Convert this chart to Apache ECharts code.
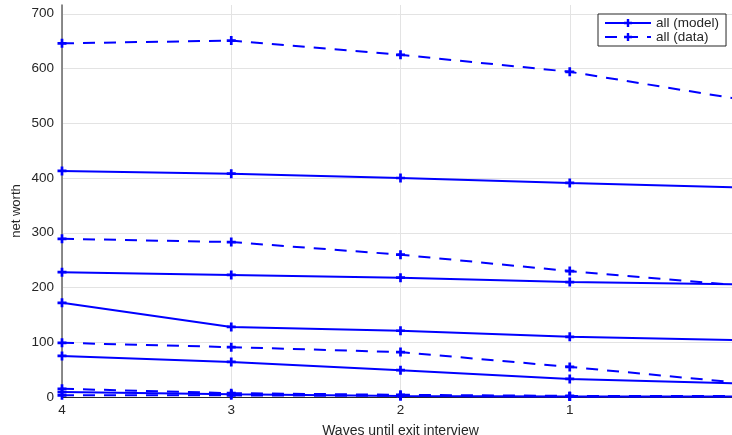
<!DOCTYPE html>
<html>
<head>
<meta charset="utf-8">
<script src="https://cdn.jsdelivr.net/npm/echarts@6/dist/echarts.min.js"></script>
<style>html,body{margin:0;padding:0;background:#fff}#c{width:732px;height:435px}</style>
</head>
<body>
<div id="c"></div>
<script>
const waves = [4, 3, 2, 1, 0];
const xTicks = ['4', '3', '2', '1', '0'];
const yTicks = [0, 100, 200, 300, 400, 500, 600, 700];
const model1 = [413, 408, 400, 391, 383];
const data1  = [646, 651, 625, 594, 544];
const model2 = [228, 223, 218, 210, 206];
const data2  = [289, 283, 260, 230, 204];
const model3 = [172, 128, 121, 110, 104];
const data3  = [99, 91, 82, 55, 26];
const model4 = [75, 64, 49, 33, 25];
const data4  = [15, 7, 4, 2, 2];
const model5 = [9, 5, 2, 1, 1];
const data5  = [3, 3, 2, 1, 1];

const seriesDefs = [
  {name: 'all (model)', vals: model1, dashed: false},
  {name: 'all (data)', vals: data1, dashed: true},
  {name: 'g2 (model)', vals: model2, dashed: false},
  {name: 'g2 (data)', vals: data2, dashed: true},
  {name: 'g3 (model)', vals: model3, dashed: false},
  {name: 'g3 (data)', vals: data3, dashed: true},
  {name: 'g4 (model)', vals: model4, dashed: false},
  {name: 'g4 (data)', vals: data4, dashed: true},
  {name: 'g5 (model)', vals: model5, dashed: false},
  {name: 'g5 (data)', vals: data5, dashed: true}
];

const plus = 'path://M3.5,0h3v3.5h3.5v3h-3.5v3.5h-3v-3.5h-3.5v-3h3.5z';
const blue = '#0000ff';
const font = 'Liberation Sans, Arial, sans-serif';

const chart = echarts.init(document.getElementById('c'), null, {renderer: 'canvas'});
chart.setOption({
  animation: false,
  backgroundColor: '#fff',
  grid: {left: 62, top: 5, width: 677, height: 392, containLabel: false, outerBoundsMode: 'none'},
  legend: {
    data: ['all (model)', 'all (data)'],
    orient: 'vertical',
    left: 598, top: 14,
    padding: [2, 7, 2, 6],
    itemGap: 0,
    itemWidth: 46, itemHeight: 10,
    backgroundColor: '#fff',
    borderColor: '#262626', borderWidth: 1, borderRadius: 0,
    textStyle: {fontFamily: font, fontSize: 13.5, color: '#262626', lineHeight: 13}
  },
  xAxis: {
    type: 'value', inverse: true, min: 0, max: 4, interval: 1,
    name: 'Waves until exit interview', nameLocation: 'middle', nameGap: 27,
    nameTextStyle: {fontFamily: font, fontSize: 14, color: '#262626'},
    axisLine: {show: true, onZero: false, lineStyle: {color: '#262626', width: 1}},
    axisTick: {show: false},
    axisLabel: {fontFamily: font, fontSize: 13.5, color: '#262626', margin: 6,
      formatter: v => xTicks[waves.indexOf(v)] ?? ''},
    splitLine: {show: true, lineStyle: {color: '#e3e3e3', width: 1}}
  },
  yAxis: {
    type: 'value', min: 0, max: 716, interval: 100, position: 'left',
    axisLine: {show: true, onZero: false, lineStyle: {color: '#666', width: 1.5}},
    axisTick: {show: false},
    axisLabel: {fontFamily: font, fontSize: 13.5, color: '#262626', margin: 8, showMaxLabel: false,
      formatter: v => yTicks.includes(v) ? String(v) : ''},
    splitLine: {show: true, showMaxLine: false, lineStyle: {color: '#e3e3e3', width: 1}}
  },
  graphic: [{
    type: 'text', x: 16, y: 211, rotation: Math.PI / 2,
    style: {text: 'net worth', font: '13px ' + font, fill: '#262626', align: 'center', verticalAlign: 'middle'}
  }],
  series: seriesDefs.map(s => ({
    name: s.name,
    type: 'line',
    data: waves.map((w, i) => [w, s.vals[i]]),
    symbol: plus,
    symbolSize: 9,
    showAllSymbol: true,
    clip: false,
    itemStyle: {color: blue},
    lineStyle: {color: blue, width: 2, type: s.dashed ? [12, 9] : 'solid'}
  }))
});
</script>
</body>
</html>
